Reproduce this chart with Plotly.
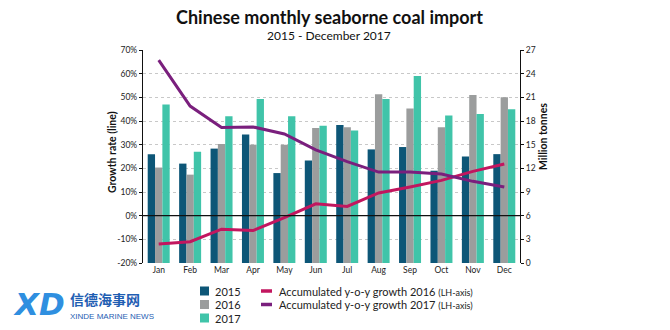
import plotly.graph_objects as go

months = ["Jan", "Feb", "Mar", "Apr", "May", "Jun", "Jul", "Aug", "Sep", "Oct", "Nov", "Dec"]
imp_2015 = [13.8, 12.6, 14.5, 16.3, 11.4, 13.0, 17.5, 14.4, 14.7, 11.7, 13.5, 13.8]
imp_2016 = [12.1, 11.2, 15.1, 15.0, 15.0, 17.1, 17.2, 21.4, 19.6, 17.2, 21.3, 21.0]
imp_2017 = [20.1, 14.1, 18.6, 20.8, 18.6, 17.4, 16.8, 20.8, 23.7, 18.7, 18.9, 19.5]
growth_2016 = [-12.0, -11.0, -5.7, -6.3, -0.8, 5.0, 3.9, 9.6, 12.1, 14.9, 18.7, 21.8]
growth_2017 = [65.7, 46.3, 37.3, 37.5, 34.5, 27.8, 22.8, 18.4, 18.4, 17.6, 14.5, 12.1]

left_ticks = [-20, -10, 0, 10, 20, 30, 40, 50, 60, 70]
right_ticks = [0, 3, 6, 9, 12, 15, 18, 21, 24, 27]

C15, C16, C17 = "#0d5677", "#9b9d9d", "#40c4a9"
CM, CP = "#c2165f", "#7a1f7d"
FONT = "Lato"

W, H = 670, 330
L, R, T, B = 143, 520, 50, 263


def px(x):
    return (x - L) / (R - L)


def py(y):
    return (B - y) / (B - T)


fig = go.Figure()
for name, vals, col in [("2015", imp_2015, C15), ("2016", imp_2016, C16), ("2017", imp_2017, C17)]:
    fig.add_trace(go.Bar(x=months, y=vals, name=name, marker=dict(color=col, line=dict(width=0)),
                         yaxis="y", showlegend=False))
for name, vals, col in [("Accumulated y-o-y growth 2016 (LH-axis)", growth_2016, CM),
                        ("Accumulated y-o-y growth 2017 (LH-axis)", growth_2017, CP)]:
    fig.add_trace(go.Scatter(x=months, y=vals, name=name, mode="lines",
                             line=dict(color=col, width=3), yaxis="y2", showlegend=False))

shapes = []
ann = []
# zero line of the growth axis, drawn above the bars
shapes.append(dict(type="line", xref="paper", yref="y2", x0=0, x1=1, y0=0, y1=0,
                   line=dict(color="#111", width=1.2), layer="above"))
# legend for bars
for i, (lab, col) in enumerate([("2015", C15), ("2016", C16), ("2017", C17)]):
    yc = 291 + i * 13.5
    shapes.append(dict(type="rect", xref="paper", yref="paper", x0=px(200), x1=px(209),
                       y0=py(yc + 4.5), y1=py(yc - 4.5), fillcolor=col, line=dict(width=0)))
    ann.append(dict(text=lab, xref="paper", yref="paper", x=px(213), y=py(yc), xanchor="left",
                    yanchor="middle", showarrow=False, font=dict(family=FONT, size=11, color="#222")))
for i, (lab, col) in enumerate([("Accumulated y-o-y growth 2016 <span style='font-size:9px'>(LH-axis)</span>", CM),
                                ("Accumulated y-o-y growth 2017 <span style='font-size:9px'>(LH-axis)</span>", CP)]):
    yc = 291 + i * 13.5
    shapes.append(dict(type="line", xref="paper", yref="paper", x0=px(261), x1=px(272),
                       y0=py(yc), y1=py(yc), line=dict(color=col, width=3.5)))
    ann.append(dict(text=lab, xref="paper", yref="paper", x=px(277), y=py(yc), xanchor="left",
                    yanchor="middle", showarrow=False, font=dict(family=FONT, size=11, color="#222")))

# titles
ann.append(dict(text="<b>Chinese monthly seaborne coal import</b>", xref="paper", yref="paper",
                x=px(329), y=py(17), xanchor="center", yanchor="middle", showarrow=False,
                font=dict(family=FONT, size=18, color="#111")))
ann.append(dict(text="2015 - December 2017", xref="paper", yref="paper",
                x=px(329), y=py(35), xanchor="center", yanchor="middle", showarrow=False,
                font=dict(family=FONT, size=12, color="#111")))
ann.append(dict(text="<b>Growth rate (line)</b>", xref="paper", yref="paper", x=px(112), y=py(152),
                xanchor="center", yanchor="middle", textangle=-90, showarrow=False,
                font=dict(family=FONT, size=10.5, color="#111")))
ann.append(dict(text="<b>Million tonnes</b>", xref="paper", yref="paper", x=px(543), y=py(137),
                xanchor="center", yanchor="middle", textangle=-90, showarrow=False,
                font=dict(family=FONT, size=10.5, color="#111")))
# logo
ann.append(dict(text="<b><i>XD</i></b>", xref="paper", yref="paper", x=px(11), y=py(304),
                xanchor="left", yanchor="middle", showarrow=False,
                font=dict(family="DejaVu Sans", size=31, color="#2f8fe0")))
ann.append(dict(text="<b>信德海事网</b>", xref="paper", yref="paper", x=px(68), y=py(299),
                xanchor="left", yanchor="middle", showarrow=False,
                font=dict(family="Noto Sans CJK SC", size=14, color="#1f5eb3")))
ann.append(dict(text="XINDE MARINE NEWS", xref="paper", yref="paper", x=px(68), y=py(316),
                xanchor="left", yanchor="middle", showarrow=False,
                font=dict(family="Liberation Sans", size=8, color="#1f5eb3")))

fig.update_layout(
    width=W, height=H,
    margin=dict(l=L, r=W - R, t=T, b=H - B, pad=0),
    paper_bgcolor="white", plot_bgcolor="white",
    barmode="group", bargap=0.3, bargroupgap=0,
    font=dict(family=FONT, size=8.5, color="#222"),
    showlegend=False,
    xaxis=dict(type="category", showgrid=False, showline=False, ticks="",
               tickfont=dict(family=FONT, size=8.5, color="#222")),
    yaxis=dict(range=[0, 27], tickvals=right_ticks, side="right",
               showgrid=False, zeroline=False, showline=True, linecolor="#111", linewidth=1.2,
               ticks="outside", ticklen=3, tickcolor="#111",
               tickfont=dict(family=FONT, size=8.5, color="#222")),
    yaxis2=dict(range=[-20, 70], tickvals=left_ticks, ticktext=[f"{v}%" for v in left_ticks],
                overlaying="y", side="left",
                showgrid=True, gridcolor="#c8c8c8", griddash="dot", gridwidth=1,
                zeroline=False,
                showline=True, linecolor="#111", linewidth=1.2,
                ticks="outside", ticklen=3, tickcolor="#111",
                tickfont=dict(family=FONT, size=8.5, color="#222")),
    shapes=shapes, annotations=ann,
)

fig.write_html("out.html")
